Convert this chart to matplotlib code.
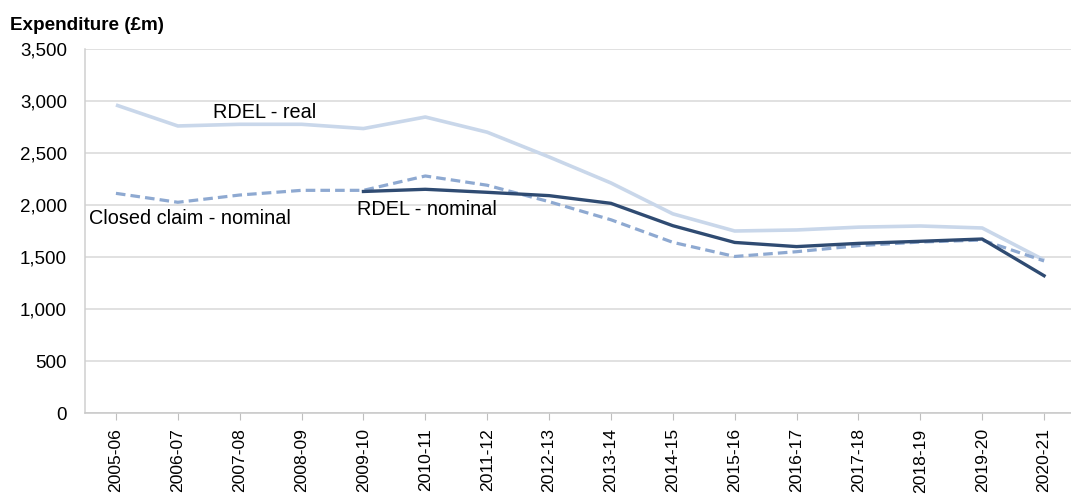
import matplotlib
matplotlib.use("Agg")
import matplotlib.pyplot as plt
from matplotlib.ticker import FuncFormatter

plt.rcParams["font.family"] = ["Liberation Sans", "DejaVu Sans"]

YEARS = ["2005-06", "2006-07", "2007-08", "2008-09", "2009-10", "2010-11",
         "2011-12", "2012-13", "2013-14", "2014-15", "2015-16", "2016-17",
         "2017-18", "2018-19", "2019-20", "2020-21"]
RDEL_REAL = [2962, 2760, 2776, 2776, 2735, 2846, 2700, 2462, 2212, 1915,
             1750, 1760, 1787, 1798, 1779, 1471]
# nominal RDEL only from 2009-10
RDEL_NOM_YEARS = YEARS[4:]
RDEL_NOM = [2130, 2151, 2122, 2090, 2016, 1801, 1640, 1600, 1631, 1651,
            1673, 1320]
CLOSED_NOM = [2112, 2026, 2096, 2141, 2141, 2279, 2190, 2032, 1858, 1641,
              1505, 1551, 1609, 1644, 1663, 1462]

C_REAL = "#C9D7EA"
C_NOM = "#2F4B72"
C_CLOSED = "#8EA9D1"
W, H = 1071, 494
FS = 13.5

fig = plt.figure(figsize=(W / 100, H / 100), dpi=100)
ax = fig.add_axes([85 / W, 81 / H, 990 / W, 364 / H])

x_all = list(range(len(YEARS)))
x_nom = [YEARS.index(y) for y in RDEL_NOM_YEARS]

ax.plot(x_all, RDEL_REAL, color=C_REAL, lw=2.6, solid_capstyle="butt", zorder=3)
ax.plot(x_all, CLOSED_NOM, color=C_CLOSED, lw=2.3, ls=(0, (3, 1.6)), zorder=4)
ax.plot(x_nom, RDEL_NOM, color=C_NOM, lw=2.4, zorder=5)

ax.set_xlim(-0.5, len(YEARS) - 0.5)
ax.set_ylim(0, 3500)
ax.set_yticks(range(0, 3501, 500))
ax.yaxis.set_major_formatter(FuncFormatter(lambda v, p: f"{int(v):,}"))
ax.set_xticks(x_all)
ax.set_xticklabels(YEARS, rotation=90, fontsize=12.6)
ax.tick_params(axis="y", length=0, labelsize=FS, pad=13)
ax.tick_params(axis="x", length=5, color="#BFBFBF", pad=6)
ax.grid(axis="y", color="#D9D9D9", lw=1.1)
ax.set_axisbelow(True)
for s in ["top", "right"]:
    ax.spines[s].set_visible(False)
ax.spines["left"].set_color("#D0D0D0")
ax.spines["bottom"].set_color("#C8C8C8")
ax.spines["left"].set_linewidth(1.1)
ax.spines["bottom"].set_linewidth(1.1)

ax.text(1.57, 2894, "RDEL - real", fontsize=14.3, va="center", ha="left")
ax.text(-0.44, 1875, "Closed claim - nominal", fontsize=14.3, va="center", ha="left")
ax.text(3.9, 1952, "RDEL - nominal", fontsize=14.3, va="center", ha="left")

fig.text(10 / W, 1 - 25 / H, "Expenditure (£m)", fontsize=13.6,
         fontweight="bold", va="center", ha="left")

fig.savefig("out.png", dpi=100)
